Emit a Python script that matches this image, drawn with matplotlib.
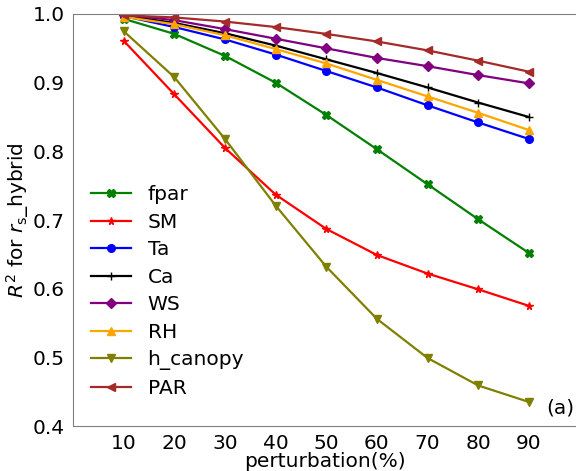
import matplotlib
matplotlib.use('Agg')
import matplotlib.pyplot as plt

# perturbation levels (%)
perturbation = [10, 20, 30, 40, 50, 60, 70, 80, 90]

# R2 values
fpar = [0.993, 0.971, 0.939, 0.900, 0.853, 0.803, 0.752, 0.701, 0.652]
sm = [0.961, 0.883, 0.805, 0.737, 0.687, 0.649, 0.622, 0.599, 0.575]
ta = [0.997, 0.981, 0.963, 0.941, 0.917, 0.893, 0.867, 0.842, 0.818]
ca = [0.998, 0.987, 0.972, 0.954, 0.934, 0.914, 0.893, 0.871, 0.850]
ws = [0.999, 0.991, 0.978, 0.964, 0.950, 0.936, 0.924, 0.911, 0.899]
rh = [0.996, 0.985, 0.969, 0.949, 0.928, 0.904, 0.880, 0.856, 0.831]
h_canopy = [0.975, 0.908, 0.818, 0.721, 0.632, 0.556, 0.499, 0.459, 0.435]
par = [0.998, 0.995, 0.989, 0.981, 0.971, 0.960, 0.947, 0.932, 0.916]

series = [
    ('fpar', fpar, 'green', 'X'),
    ('SM', sm, 'red', '*'),
    ('Ta', ta, 'blue', 'o'),
    ('Ca', ca, 'black', '+'),
    ('WS', ws, 'purple', 'D'),
    ('RH', rh, 'orange', '^'),
    ('h_canopy', h_canopy, 'olive', 'v'),
    ('PAR', par, 'brown', '<'),
]

fig = plt.figure(figsize=(5.76, 4.71), dpi=100)
ax = fig.add_axes([73 / 576, 1 - 426 / 471, 1 - 73 / 576, 412 / 471])

for name, vals, color, marker in series:
    ax.plot(perturbation, vals, color=color, marker=marker, label=name,
            linewidth=1.6, markersize=5.5)

ax.set_xlim(0, 99.3)
ax.set_ylim(0.4, 1.0)
ax.set_xticks(perturbation)
ax.set_yticks([0.4, 0.5, 0.6, 0.7, 0.8, 0.9, 1.0])
ax.tick_params(length=0, labelsize=14.5, pad=6)
for s in ax.spines.values():
    s.set_color('grey')
ax.spines['right'].set_visible(False)

ax.set_xlabel('perturbation(%)', fontsize=14.5, labelpad=-1)
ax.set_ylabel(r'$R^2$ for $r_{\mathrm{s}}$_hybrid', fontsize=14.5, labelpad=1)
fig.text(0.998, 1 - 408 / 471, '(a)', fontsize=14.5, ha='right', va='center')

ax.legend(loc='lower left', bbox_to_anchor=(0.0, 0.025), frameon=False,
          fontsize=14.5, handlelength=2.0, labelspacing=0.42)

fig.savefig('out.png', dpi=100)
